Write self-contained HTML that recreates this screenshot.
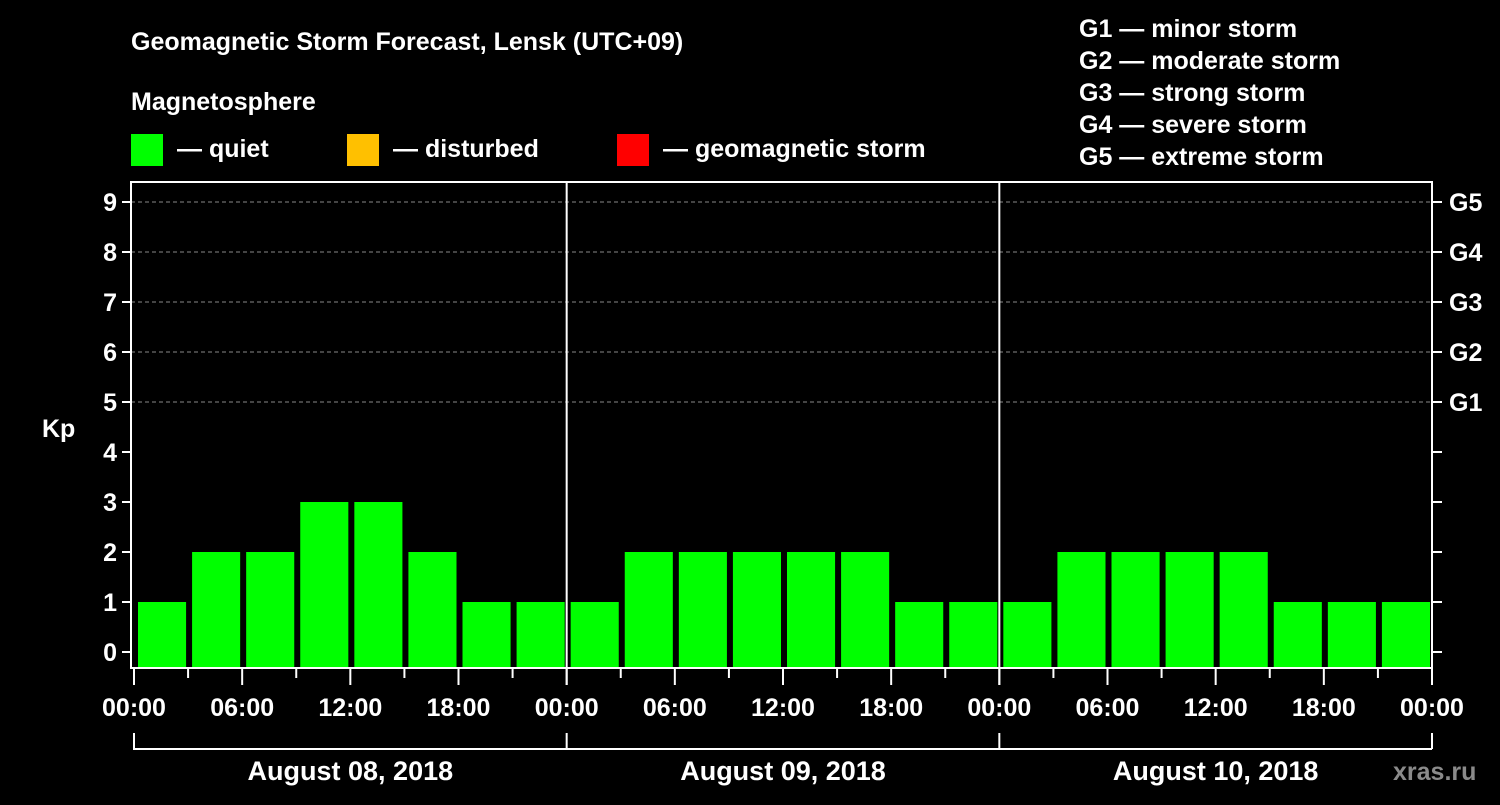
<!DOCTYPE html>
<html><head><meta charset="utf-8"><style>
body{margin:0;background:#000;}
svg text{font-family:"Liberation Sans",Arial,sans-serif;font-weight:bold;fill:#fff;}
</style></head><body>
<svg id="chart" width="1500" height="800" xmlns="http://www.w3.org/2000/svg">
<rect width="1500" height="800" fill="#000"/>
<g>
<text x="131" y="50" font-size="25">Geomagnetic Storm Forecast, Lensk (UTC+09)</text>
<text x="131" y="110" font-size="25">Magnetosphere</text>
<rect x="131" y="134" width="32" height="32" fill="#00ff00"/>
<text x="177" y="157" font-size="25">— quiet</text>
<rect x="347" y="134" width="32" height="32" fill="#ffc000"/>
<text x="393" y="157" font-size="25">— disturbed</text>
<rect x="617" y="134" width="32" height="32" fill="#ff0000"/>
<text x="663" y="157" font-size="25">— geomagnetic storm</text>
<g font-size="25">
<text x="1079" y="37">G1 — minor storm</text>
<text x="1079" y="69">G2 — moderate storm</text>
<text x="1079" y="101">G3 — strong storm</text>
<text x="1079" y="133">G4 — severe storm</text>
<text x="1079" y="165">G5 — extreme storm</text>
</g>
</g>
<g id="plot"></g>
<text x="1393" y="780" font-size="25" fill="#888" style="fill:#8a8a8a">xras.ru</text>
</svg>
<script>
const kpValues=[1,2,2,3,3,2,1,1, 1,2,2,2,2,2,1,1, 1,2,2,2,2,1,1,1];
const dayLabels=["August 08, 2018","August 09, 2018","August 10, 2018"];
const yTicks=[0,1,2,3,4,5,6,7,8,9];
const gLabels=["G1","G2","G3","G4","G5"];
const hourLabels=["00:00","06:00","12:00","18:00"];
const NS="http://www.w3.org/2000/svg";
const plot=document.getElementById('plot');
const L=131,R=1432,T=182,B=668,X0=134;
const slotW=(R-X0)/kpValues.length;
const y=v=>652-50*v;
const x=i=>X0+i*slotW;
function mk(tag,attrs,parent){const e=document.createElementNS(NS,tag);for(const k in attrs)e.setAttribute(k,attrs[k]);(parent||plot).appendChild(e);return e;}
// grid
yTicks.forEach(v=>{
  if(v>=5){const g=mk('line',{x1:L,x2:R,y1:y(v),y2:y(v),stroke:'#888','stroke-dasharray':'4,3','stroke-width':1});
  
  }
  const t=mk('line',{x1:L-9,x2:L,y1:y(v),y2:y(v),stroke:'#fff','stroke-width':2});
  
  
  const t2=mk('line',{x1:R,x2:R+10,y1:y(v),y2:y(v),stroke:'#fff','stroke-width':2});
  
  
  const lb=mk('text',{x:L-14,y:y(v)+9,'font-size':25,'text-anchor':'end'});
  lb.textContent=v;
  
  
});
gLabels.forEach((g,i)=>{
  const lb=mk('text',{x:R+17,y:y(5+i)+9,'font-size':25});
  lb.textContent=g;
  
  
});
const kp=mk('text',{x:42,y:437,'font-size':25});kp.textContent='Kp';


// bars
kpValues.forEach((v,i)=>{
  const c=v>=5?'#ff0000':(v>=4?'#ffc000':'#00ff00');
  const b=mk('rect',{x:x(i)+4,y:y(v),width:slotW-6,height:B-y(v),fill:c});
  
  
});
// frame
const fr=mk('rect',{x:L,y:T,width:R-L,height:B-T,fill:'none',stroke:'#fff','stroke-width':2});


// x ticks
for(let i=0;i<=kpValues.length;i++){
  const long=i%2===0;
  const tk=mk('line',{x1:x(i),x2:x(i),y1:B,y2:B+(long?17:10),stroke:'#fff','stroke-width':2});
  
  
  if(long){
    const lb=mk('text',{x:x(i),y:716,'font-size':25,'text-anchor':'middle'});
    lb.textContent=hourLabels[(i/2)%4];
    
    
  }
}
// day separators and brackets
dayLabels.forEach((d,k)=>{
  const a=x(k*8),b=x((k+1)*8);
  if(k>0){const s=mk('line',{x1:a,x2:a,y1:T,y2:B+17,stroke:'#fff','stroke-width':2});
  
  }
  const br=mk('path',{d:`M${a} 733V749H${b}`,fill:'none',stroke:'#fff','stroke-width':2});
  
  
  const lb=mk('text',{x:(a+b)/2,y:780,'font-size':27,'text-anchor':'middle'});
  lb.textContent=d;
  
  
});
const eb=mk('line',{x1:R,x2:R,y1:733,y2:749,stroke:'#fff','stroke-width':2});


</script>
</body></html>
